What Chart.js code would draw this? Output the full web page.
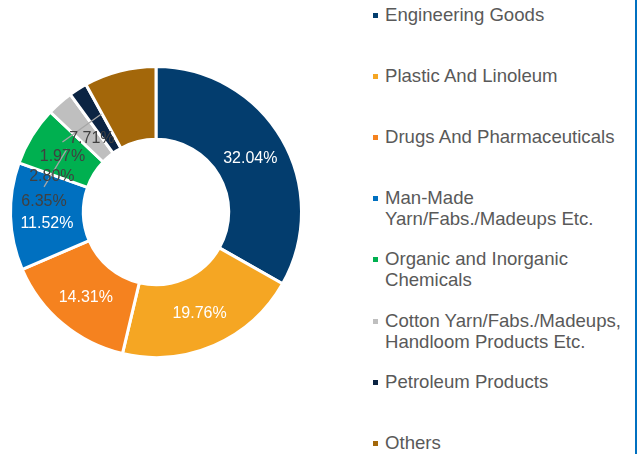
<!DOCTYPE html>
<html>
<head>
<meta charset="utf-8">
<script src="https://cdn.jsdelivr.net/npm/chart.js@4.4.1/dist/chart.umd.min.js"></script>
<style>
  html, body { margin: 0; padding: 0; background: #fff; }
  #wrap { position: relative; width: 637px; height: 454px; overflow: hidden;
          font-family: "Liberation Sans", Arial, sans-serif; }
  #chartBox { position: absolute; left: 0; top: 0; width: 312px; height: 424px; }
  .item { position: absolute; left: 373px; width: 260px; }
  .sw { position: absolute; left: 0; top: 9px; width: 5px; height: 5px; }
  .txt { position: absolute; left: 12px; top: 0; width: 248px; font-size: 18.6px;
         line-height: 21px; color: #595959; }
  #edge { position: absolute; left: 635px; top: 0; width: 2px; height: 454px; background: #0070C0; }
</style>
</head>
<body>
<div id="wrap">
  <div id="chartBox"><canvas id="exportsChart"></canvas></div>
  <div id="legend"></div>
  <div id="edge"></div>
</div>
<script>
const categories = [
  "Engineering Goods",
  "Plastic And Linoleum",
  "Drugs And Pharmaceuticals",
  "Man-Made Yarn/Fabs./Madeups Etc.",
  "Organic and Inorganic Chemicals",
  "Cotton Yarn/Fabs./Madeups, Handloom Products Etc.",
  "Petroleum Products",
  "Others"
];
const shares = [32.04, 19.76, 14.31, 11.52, 6.35, 2.80, 1.97, 7.71];
const sliceColors = ["#033D6E", "#F5A623", "#F5821F", "#0070C0", "#00B050", "#BFBFBF", "#0B2443", "#A3670A"];

// labels that got pushed around to avoid overlapping, like the original
const labelShifts = {
  3: { dx: 0, dy: 8, inside: true },
  4: { dx: -19, dy: 47, leader: true },
  5: { dx: -32, dy: 47 },
  6: { dx: -35, dy: 37, leader: true },
  7: { dx: -37, dy: 32 }
};

const sliceLabels = {
  id: "sliceLabels",
  afterDatasetsDraw(chart) {
    const ctx = chart.ctx;
    const arcs = chart.getDatasetMeta(0).data;
    ctx.save();
    // leader lines first so text sits over them
    ctx.strokeStyle = "#A6A6A6";
    ctx.lineWidth = 1.3;
    arcs.forEach((arc, i) => {
      const s = labelShifts[i];
      if (!s || !s.leader) return;
      const p = arc.getCenterPoint();
      ctx.beginPath();
      ctx.moveTo(p.x + s.dx, p.y + s.dy - 15);
      ctx.lineTo(p.x + 4, p.y - 6);
      ctx.stroke();
    });
    ctx.font = '16px "Liberation Sans", Arial, sans-serif';
    ctx.textAlign = "center";
    ctx.textBaseline = "middle";
    arcs.forEach((arc, i) => {
      const p = arc.getCenterPoint();
      const s = labelShifts[i] || { dx: 0, dy: 2, inside: true };
      const text = shares[i].toFixed(2) + "%";
      ctx.fillStyle = s.inside ? "#FFFFFF" : "#404040";
      ctx.fillText(text, p.x + s.dx, p.y + s.dy);
    });
    ctx.restore();
  }
};

new Chart(document.getElementById("exportsChart"), {
  type: "doughnut",
  data: {
    labels: categories,
    datasets: [{
      data: shares,
      backgroundColor: sliceColors,
      borderColor: "#FFFFFF",
      borderWidth: 3
    }]
  },
  options: {
    responsive: true,
    maintainAspectRatio: false,
    animation: false,
    cutout: "50%",
    layout: { padding: 9 },
    plugins: {
      legend: { display: false },
      tooltip: { enabled: false }
    }
  },
  plugins: [sliceLabels]
});

// legend on the right
const legend = document.getElementById("legend");
categories.forEach((name, i) => {
  const item = document.createElement("div");
  item.className = "item";
  item.style.top = (4 + i * 61.1) + "px";
  const sw = document.createElement("div");
  sw.className = "sw";
  sw.style.background = sliceColors[i];
  const txt = document.createElement("div");
  txt.className = "txt";
  txt.textContent = name;
  item.appendChild(sw);
  item.appendChild(txt);
  legend.appendChild(item);
});
</script>
</body>
</html>
